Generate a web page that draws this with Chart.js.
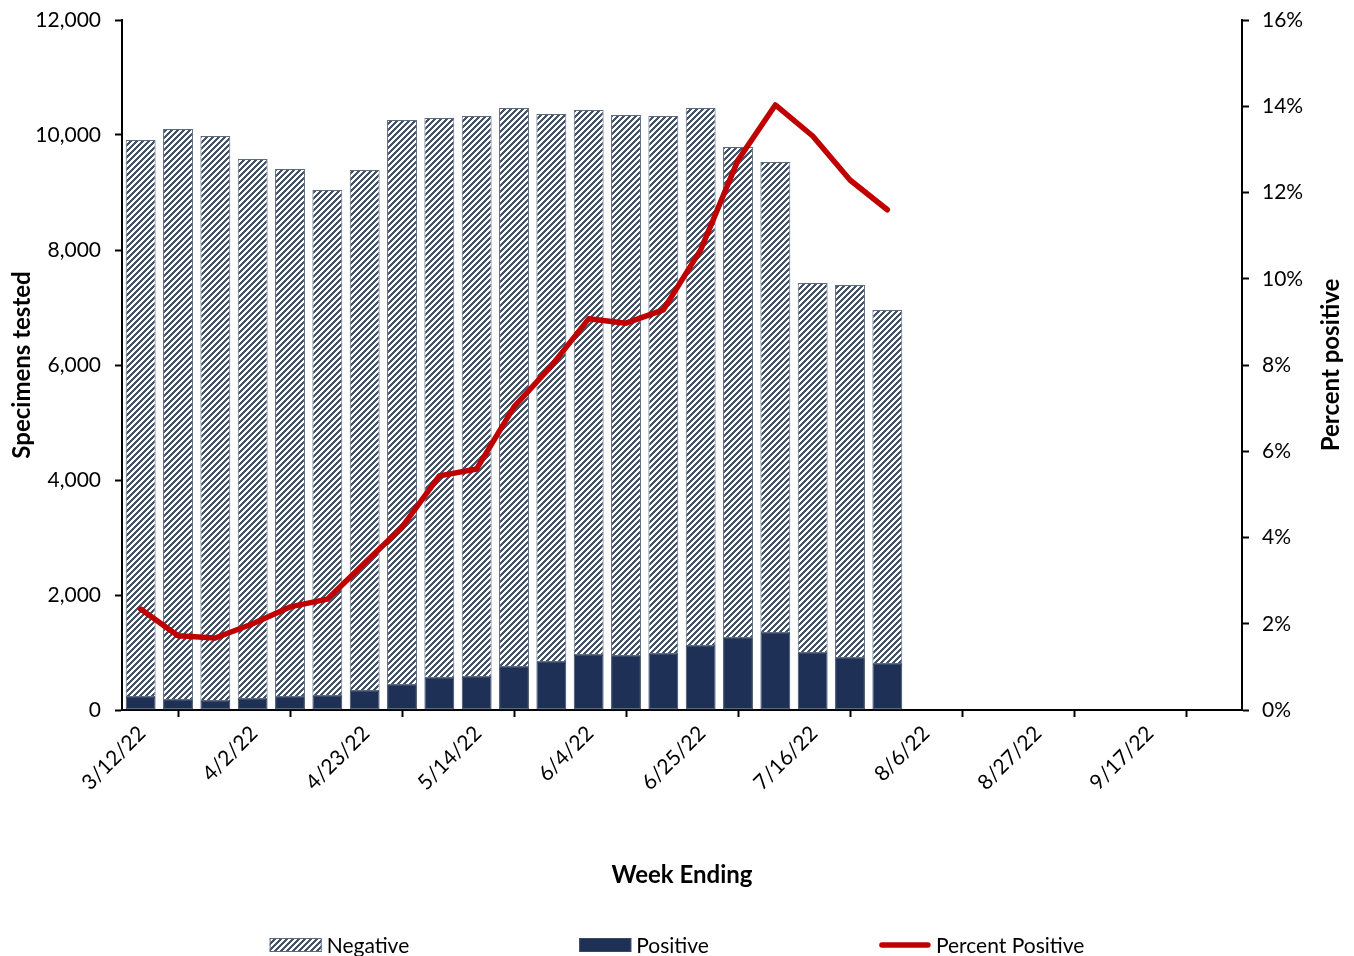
<!DOCTYPE html>
<html>
<head>
<meta charset="utf-8">
<script src="https://cdn.jsdelivr.net/npm/chart.js@4.4.1/dist/chart.umd.min.js"></script>
<style>
  html, body { margin: 0; padding: 0; background: #fff; }
  #wrap { width: 1354px; height: 956px; }
</style>
</head>
<body>
<div id="wrap"><canvas id="myChart"></canvas></div>
<script>
// week ending dates, one per bar
var weeks = ['3/12/22', '3/19/22', '3/26/22', '4/2/22', '4/9/22', '4/16/22', '4/23/22',
  '4/30/22', '5/7/22', '5/14/22', '5/21/22', '5/28/22', '6/4/22', '6/11/22', '6/18/22',
  '6/25/22', '7/2/22', '7/9/22', '7/16/22', '7/23/22', '7/30/22'];
var negative = [9687, 9930, 9826, 9392, 9183, 8800, 9061, 9826, 9739, 9756, 9722,
  9530, 9478, 9409, 9356, 9357, 8539, 8191, 6435, 6487, 6157];
var positive = [226, 174, 157, 191, 226, 243, 330, 435, 557, 574, 748,
  835, 957, 939, 974, 1113, 1252, 1339, 991, 904, 800];
var pctPositive = [2.34, 1.72, 1.67, 2.0, 2.39, 2.57, 3.41, 4.24, 5.43, 5.59, 7.03,
  7.98, 9.07, 8.97, 9.28, 10.67, 12.75, 14.03, 13.31, 12.29, 11.6];
var tickLabels = ['3/12/22', '4/2/22', '4/23/22', '5/14/22', '6/4/22', '6/25/22',
  '7/16/22', '8/6/22', '8/27/22', '9/17/22'];

var FONT = 'Lato';

// hatch pattern for the negative bars
function makeHatch() {
  var c = document.createElement('canvas');
  c.width = 6; c.height = 6;
  var g = c.getContext('2d');
  g.fillStyle = '#ffffff';
  g.fillRect(0, 0, 6, 6);
  g.fillStyle = '#44546A';
  for (var y = 0; y < 6; y++) {
    for (var x = 0; x < 6; x++) {
      if ((x + y) % 6 < 3) g.fillRect(x, y, 1, 1);
    }
  }
  return g.createPattern(c, 'repeat');
}
var hatch = makeHatch();

// bar i sits in the middle of its week
function pts(arr) {
  return arr.map(function(v, i) { return {x: i + 0.5, y: v}; });
}

// legend spread out like the original, plus the right axis title (reads bottom to top)
var legendOrder = [1, 0, 2];
var extras = {
  id: 'extras',
  afterDraw: function(chart) {
    var ctx = chart.ctx;
    var ds = chart.data.datasets;
    var boxW = 52, boxH = 14, gap = 5, spacing = 170;
    ctx.save();
    ctx.font = '21px ' + FONT;
    ctx.textBaseline = 'middle';
    ctx.textAlign = 'left';
    var items = legendOrder.map(function(k) { return ds[k]; });
    var widths = items.map(function(d) { return boxW + gap + ctx.measureText(d.label).width; });
    var total = widths.reduce(function(a, b) { return a + b; }, 0) + spacing * (items.length - 1);
    var x = (chart.width - total) / 2;
    var y = chart.height - 11;
    items.forEach(function(d, i) {
      if (d.type === 'line') {
        ctx.strokeStyle = d.borderColor;
        ctx.lineWidth = 5.5;
        ctx.lineCap = 'round';
        ctx.beginPath();
        ctx.moveTo(x + 3, y);
        ctx.lineTo(x + boxW - 3, y);
        ctx.stroke();
      } else {
        ctx.fillStyle = d.backgroundColor;
        ctx.fillRect(x, y - boxH / 2, boxW, boxH);
        ctx.strokeStyle = d.borderColor;
        ctx.lineWidth = 1;
        ctx.strokeRect(x + 0.5, y - boxH / 2 + 0.5, boxW - 1, boxH - 1);
      }
      ctx.fillStyle = '#000';
      ctx.fillText(d.label, x + boxW + gap, y + 1);
      x += widths[i] + spacing;
    });

    var ca = chart.chartArea;
    ctx.font = 'bold 24px ' + FONT;
    ctx.textAlign = 'center';
    ctx.translate(chart.width - 23, (ca.top + ca.bottom) / 2);
    ctx.rotate(-Math.PI / 2);
    ctx.fillText('Percent positive', 0, 0);
    ctx.restore();
  }
};

Chart.defaults.font.family = FONT;
Chart.defaults.color = '#000';

var chartdata = {
  datasets: [
    {
      label: 'Positive',
      type: 'bar',
      data: pts(positive),
      backgroundColor: '#1F3056',
      borderColor: '#3A4A66',
      borderWidth: 1,
      borderSkipped: false,
      categoryPercentage: 0.8,
      barPercentage: 1.0,
      yAxisID: 'y',
      stack: 's',
      order: 2
    },
    {
      label: 'Negative',
      type: 'bar',
      data: pts(negative),
      backgroundColor: hatch,
      borderColor: '#5B6B80',
      borderWidth: 1,
      borderSkipped: false,
      categoryPercentage: 0.8,
      barPercentage: 1.0,
      yAxisID: 'y',
      stack: 's',
      order: 3
    },
    {
      label: 'Percent Positive',
      type: 'line',
      data: pts(pctPositive),
      borderColor: '#C00000',
      backgroundColor: '#C00000',
      borderWidth: 5.5,
      borderCapStyle: 'round',
      borderJoinStyle: 'round',
      pointRadius: 0,
      tension: 0,
      fill: false,
      yAxisID: 'y1',
      order: 1
    }
  ]
};

var ctx = document.getElementById('myChart').getContext('2d');
var myChart = new Chart(ctx, {
  type: 'bar',
  data: chartdata,
  plugins: [extras],
  options: {
    responsive: true,
    maintainAspectRatio: false,
    animation: false,
    layout: { padding: { top: 20, bottom: 66, left: 0, right: 0 } },
    plugins: {
      legend: { display: false },
      tooltip: { enabled: false }
    },
    scales: {
      x: {
        type: 'linear',
        offset: false,
        min: 0,
        max: 30,
        stacked: true,
        grid: { drawOnChartArea: false, drawTicks: true, tickLength: 7, tickColor: '#000', tickWidth: 2 },
        border: { display: true, color: '#000', width: 2 },
        ticks: {
          stepSize: 3,
          autoSkip: false,
          maxRotation: 45,
          minRotation: 45,
          labelOffset: 20,
          padding: 4,
          font: { size: 21 },
          callback: function(v) { return tickLabels[v / 3] || ''; }
        },
        title: { display: true, text: 'Week Ending', font: { size: 24, weight: 'bold' }, padding: { top: 0, bottom: 0 } },
        afterFit: function(s) { s.height = 180; }
      },
      y: {
        position: 'left',
        stacked: true,
        min: 0,
        max: 12000,
        grid: { drawOnChartArea: false, drawTicks: true, tickLength: 7, tickColor: '#000', tickWidth: 2 },
        border: { display: true, color: '#000', width: 2 },
        ticks: {
          stepSize: 2000,
          padding: 14,
          font: { size: 21, lineHeight: 0.5 },
          callback: function(v) { return v.toLocaleString('en-US'); }
        },
        title: { display: true, text: 'Specimens tested', font: { size: 24, weight: 'bold' }, padding: { top: 8, bottom: 0 } },
        afterFit: function(s) { s.width = 122; }
      },
      y1: {
        position: 'right',
        min: 0,
        max: 16,
        grid: { drawOnChartArea: false, drawTicks: true, tickLength: 7, tickColor: '#000', tickWidth: 2 },
        border: { display: true, color: '#000', width: 2 },
        ticks: {
          stepSize: 2,
          padding: 13,
          font: { size: 21, lineHeight: 0.5 },
          callback: function(v) { return v + '%'; }
        },
        afterFit: function(s) { s.width = 112; }
      }
    }
  }
});
</script>
</body>
</html>
